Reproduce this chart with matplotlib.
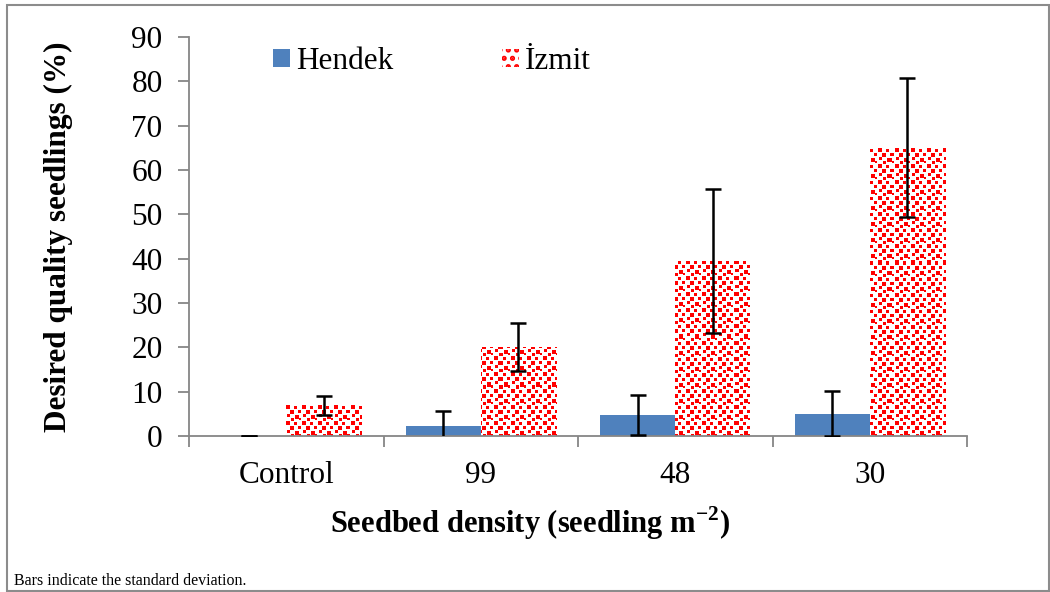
import matplotlib.pyplot as plt
import matplotlib.patches as mpatches
import numpy as np

categories = ["Control", "99", "48", "30"]
hendek = [0.0, 2.3, 4.7, 5.0]
hendek_sd = [0.0, 3.4, 4.5, 5.1]
izmit = [6.9, 20.1, 39.5, 65.0]
izmit_sd = [2.2, 5.5, 16.3, 15.7]

plt.rcParams["font.family"] = ["Liberation Serif", "DejaVu Serif"]
plt.rcParams["mathtext.fontset"] = "custom"
plt.rcParams["mathtext.rm"] = "Liberation Serif"
plt.rcParams["mathtext.bf"] = "Liberation Serif:bold"
plt.rcParams["hatch.linewidth"] = 2.5

fig = plt.figure(figsize=(10.5, 5.92), dpi=100)
ax = fig.add_axes([0.180, 0.2635, 0.741, 0.674])

x = np.arange(len(categories))
w = 0.386
err_kw = dict(ecolor="black", elinewidth=1.8, capsize=6, capthick=1.8,
              zorder=4)

ax.bar(x - w, hendek, w, align="edge", color="#4f81bd", yerr=hendek_sd,
       error_kw=err_kw, zorder=2)
izmit_bars = ax.bar(x, izmit, w, align="edge", color="white", linewidth=0,
                    yerr=izmit_sd, error_kw=err_kw, zorder=2)

# "small confetti" fill for the Izmit bars
tile = np.zeros((16, 16), dtype=bool)
for r, c, s in [(0, 1, 4), (1, 9, 3), (5, 5, 4), (5, 13, 3),
                (9, 2, 3), (10, 10, 4), (13, 6, 3), (13, 14, 2)]:
    tile[r:r + s, c:c + s] = True
conf = np.tile(tile, (26, 50))[:399, :778]
rgb = np.ones(conf.shape + (3,))
rgb[conf] = [1.0, 0.0, 0.0]
for bar in izmit_bars:
    im = ax.imshow(rgb, extent=(-0.5, len(categories) - 0.5, 0, 90),
                   aspect="auto", interpolation="nearest", zorder=2.5)
    im.set_clip_path(bar)
ax.set_xlim(-0.5, len(categories) - 0.5)
ax.set_ylim(0, 90)

ax.set_yticks(range(0, 91, 10))
ax.set_xticks(x)
ax.set_xticklabels(categories)
ax.set_xticks(np.arange(-0.5, len(categories), 1), minor=True)
ax.tick_params(axis="x", which="major", length=0, pad=18, labelsize=22.5)
ax.tick_params(axis="x", which="minor", length=8, color="#868686", width=1.3)
ax.tick_params(axis="y", length=8, color="#868686", width=1.3, pad=11,
               labelsize=22.5)

for side in ["top", "right"]:
    ax.spines[side].set_visible(False)
for side in ["left", "bottom"]:
    ax.spines[side].set_color("#868686")
    ax.spines[side].set_linewidth(1.3)

ax.set_ylabel("Desired quality seedlings (%)", fontsize=22.5,
              fontweight="bold", va="center")
ax.yaxis.set_label_coords(-0.168, 0.5)
ax.set_xlabel("Seedbed density (seedling m$^{\\mathbf{-2}}$)", fontsize=22,
              fontweight="bold", va="center")
ax.xaxis.set_label_coords(0.438, -0.218)

handles = [
    mpatches.Patch(facecolor="#4f81bd", label="Hendek"),
    mpatches.Patch(facecolor="white", edgecolor="red", linewidth=0,
                   hatch="..", label="İzmit"),
]
ax.legend(handles=handles, loc="upper left", bbox_to_anchor=(0.072, 1.045),
          ncol=2, frameon=False, fontsize=22.5, handlelength=0.53,
          handleheight=0.53, handletextpad=0.19, columnspacing=3.5)

fig.text(0.013, 0.012, "Bars indicate the standard deviation.", fontsize=11.5)

fig.patches.append(mpatches.Rectangle((0.007, 0.002), 0.992, 0.99,
                                      transform=fig.transFigure, fill=False,
                                      edgecolor="#8c8c8c", linewidth=1.5))

fig.savefig("out.png", dpi=100)
